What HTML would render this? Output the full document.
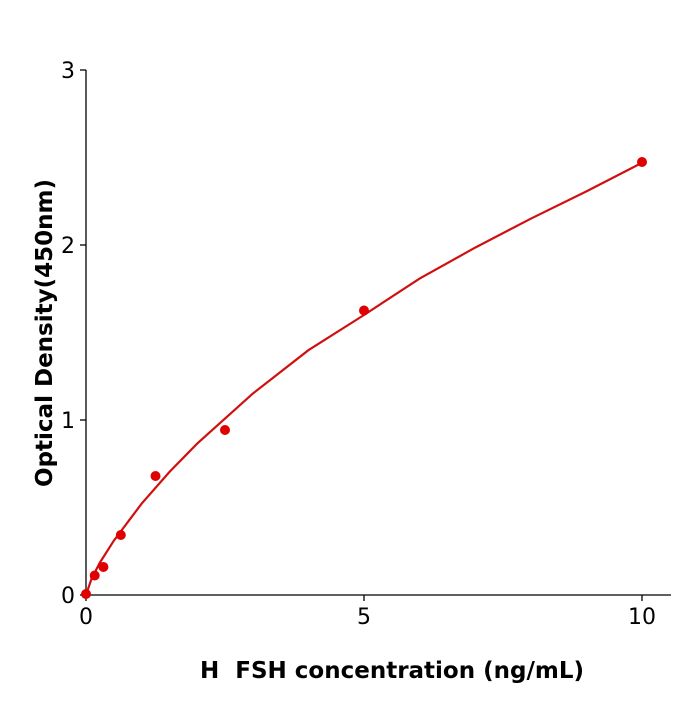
<!DOCTYPE html>
<html><head><style>body{margin:0;background:#fff}</style></head><body>
<svg width="700" height="700" xmlns="http://www.w3.org/2000/svg" font-family="'DejaVu Sans','Liberation Sans',sans-serif">
<rect width="700" height="700" fill="#fff"/>
<g stroke="#000" stroke-width="1.3" fill="none">
<line x1="86" y1="70" x2="86" y2="595.5"/>
<line x1="85.5" y1="595" x2="671" y2="595"/>
<line x1="80" y1="70" x2="86" y2="70"/>
<line x1="80" y1="245" x2="86" y2="245"/>
<line x1="80" y1="420" x2="86" y2="420"/>
<line x1="80" y1="595" x2="86" y2="595"/>
<line x1="86" y1="595" x2="86" y2="601"/>
<line x1="364" y1="595" x2="364" y2="601"/>
<line x1="642" y1="595" x2="642" y2="601"/>
</g>
<g font-size="22" fill="#000">
<text x="75" y="78" text-anchor="end">3</text>
<text x="75" y="253" text-anchor="end">2</text>
<text x="75" y="428" text-anchor="end">1</text>
<text x="75" y="603" text-anchor="end">0</text>
<text x="86" y="624" text-anchor="middle">0</text>
<text x="364" y="624" text-anchor="middle">5</text>
<text x="642" y="624" text-anchor="middle">10</text>
</g>
<text x="392" y="678" font-size="23" font-weight="bold" text-anchor="middle">H&#160;&#160;FSH concentration (ng/mL)</text>
<text transform="translate(52,333) rotate(-90)" font-size="23" font-weight="bold" text-anchor="middle">Optical Density(450nm)</text>
<polyline fill="none" stroke="#d01010" stroke-width="2.2" points="86,595 91.6,578.5 99.9,562.6 113.8,540.7 141.6,503.7 169.4,472 197.2,443.6 252.8,393.6 308.4,350.2 364,315 419.6,278.6 475.2,247.6 530.8,218.7 586.4,191.4 642,162.8"/>
<g fill="#e00000">
<circle cx="86" cy="594" r="5"/>
<circle cx="94.7" cy="575.5" r="5"/>
<circle cx="103.4" cy="567" r="5"/>
<circle cx="120.8" cy="535" r="5"/>
<circle cx="155.5" cy="476" r="5"/>
<circle cx="225" cy="430" r="5"/>
<circle cx="364" cy="310.5" r="5"/>
<circle cx="642" cy="162" r="5"/>
</g>
</svg>
</body></html>
